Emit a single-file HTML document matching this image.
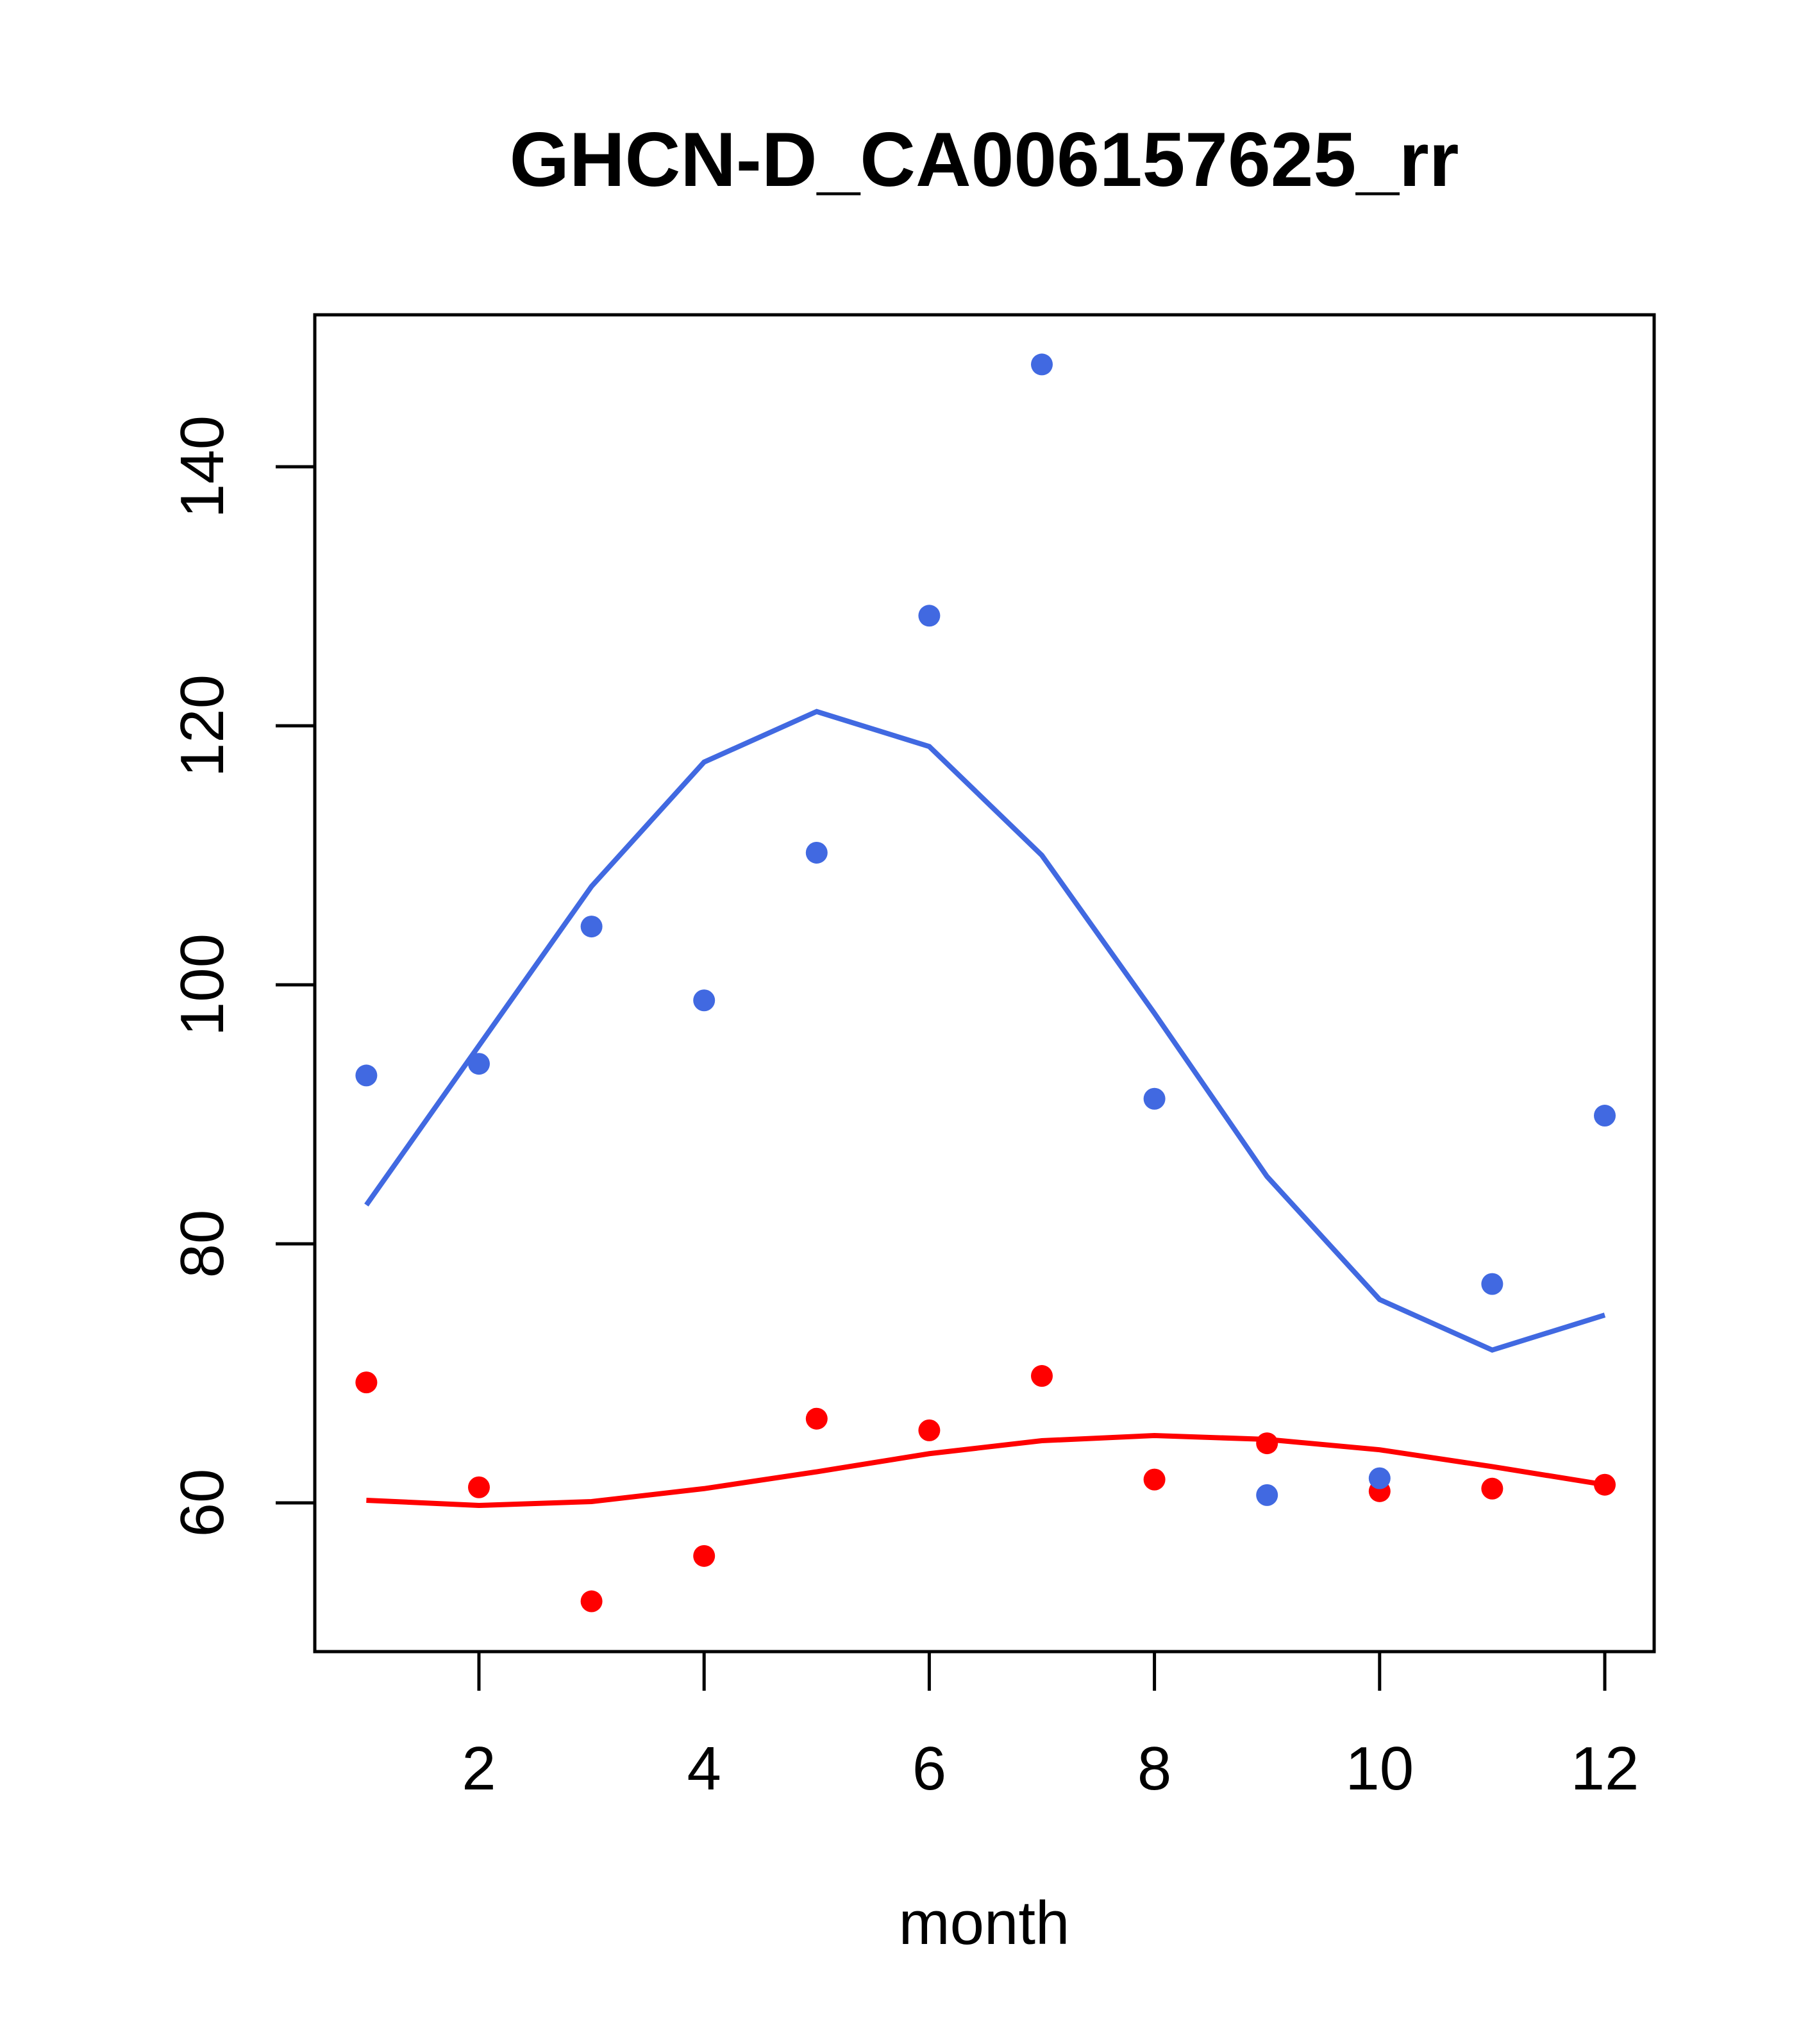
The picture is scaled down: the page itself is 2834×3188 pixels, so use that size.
<!DOCTYPE html>
<html><head><meta charset="utf-8"><style>body{margin:0;background:#fff}svg{display:block}</style></head>
<body>
<svg id="chart" width="2834" height="3188" viewBox="0 0 2834 3188" xmlns="http://www.w3.org/2000/svg" font-family="Liberation Sans, sans-serif">
<rect width="2834" height="3188" fill="#fff"/>
<text x="1535" y="290" font-size="120" font-weight="bold" text-anchor="middle">GHCN-D_CA006157625_rr</text>
<rect x="491" y="491" width="2089" height="2085" fill="none" stroke="#000" stroke-width="5"/>
<g id="xaxis"></g>
<g id="yaxis"></g>
<text x="1535" y="3032" font-size="96" text-anchor="middle">month</text>
<g id="marks"></g>
</svg>
<script>
const months=[1,2,3,4,5,6,7,8,9,10,11,12];
const xTicks=[2,4,6,8,10,12];
const yTicks=[60,80,100,120,140];
const bluePoints=[93.0,93.9,104.5,98.8,110.2,128.5,147.9,91.2,60.6,61.9,76.9,89.9];
const blueLine=[83.0,95.3,107.6,117.2,121.1,118.4,110.0,97.8,85.2,75.7,71.8,74.5];
const redPoints=[69.3,61.2,52.4,55.9,66.5,65.6,69.8,61.8,64.6,60.9,61.1,61.4];
const redLine=[60.2,59.8,60.1,61.1,62.4,63.8,64.8,65.2,64.9,64.1,62.8,61.4];
const NS='http://www.w3.org/2000/svg';
const X=m=>571.4+(m-1)*175.6;
const Y=v=>2344-(v-60)*20.2;
function mk(t,a,p){const e=document.createElementNS(NS,t);for(const k in a)e.setAttribute(k,a[k]);p.appendChild(e);return e;}
const xa=document.getElementById('xaxis'),ya=document.getElementById('yaxis'),mg=document.getElementById('marks');
xTicks.forEach(t=>{
 const l=mk('line',{x1:X(t),x2:X(t),y1:2576,y2:2637,stroke:'#000','stroke-width':5},xa);
 
 
 const tx=mk('text',{x:X(t),y:2791,'font-size':96,'text-anchor':'middle'},xa);tx.textContent=t;
 
 
});
yTicks.forEach(t=>{
 const l=mk('line',{x1:430,x2:491,y1:Y(t),y2:Y(t),stroke:'#000','stroke-width':5},ya);
 
 
 const tx=mk('text',{x:0,y:0,'font-size':96,'text-anchor':'middle',transform:`translate(348,${Y(t)}) rotate(-90)`},ya);tx.textContent=t;
 
 
});
function line(vals,col,name){
 const p=mk('polyline',{points:vals.map((v,i)=>X(months[i])+','+Y(v)).join(' '),fill:'none',stroke:col,'stroke-width':8},mg);
 
 
}
function pts(vals,col,name){
 vals.forEach((v,i)=>{const c=mk('circle',{cx:X(months[i]),cy:Y(v),r:17,fill:col},mg);
 
 });
}
line(blueLine,'#4169E1','blue-smooth-line');
line(redLine,'#FF0000','red-smooth-line');
pts(redPoints,'#FF0000','red-point');
pts(bluePoints,'#4169E1','blue-point');
</script>
</body></html>
